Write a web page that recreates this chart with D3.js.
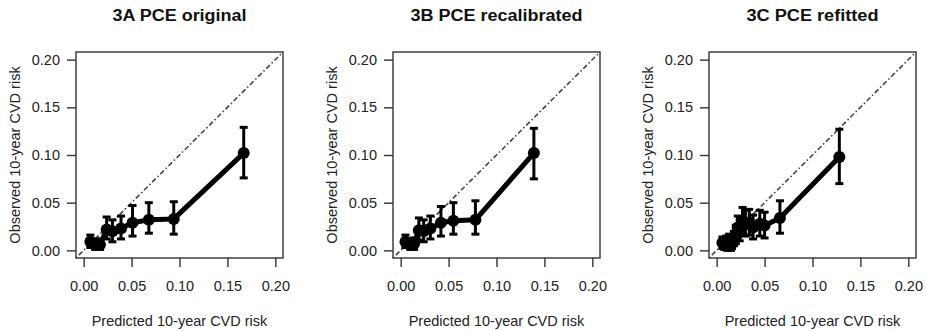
<!DOCTYPE html>
<html>
<head>
<meta charset="utf-8">
<script src="https://cdn.jsdelivr.net/npm/d3@7"></script>
<style>
  body { margin: 0; background: #fff; }
  svg text { font-family: "Liberation Sans", Arial, Helvetica, sans-serif; fill: #222; }
</style>
</head>
<body>
<div id="chart"></div>
<script>
// calibration data
const titles = ['3A PCE original', '3B PCE recalibrated', '3C PCE refitted'];
const titleWidths = [134, 172, 132];

const predA = [0.007, 0.012, 0.017, 0.024, 0.030, 0.039, 0.051, 0.068, 0.094, 0.167];
const obsA = [0.009, 0.006, 0.006, 0.022, 0.020, 0.023, 0.029, 0.032, 0.033, 0.102];
const lowA = [0.003, 0.001, 0.001, 0.012, 0.009, 0.012, 0.015, 0.018, 0.017, 0.076];
const highA = [0.016, 0.012, 0.012, 0.035, 0.032, 0.036, 0.047, 0.050, 0.051, 0.129];

const predB = [0.005, 0.010, 0.014, 0.019, 0.024, 0.031, 0.042, 0.055, 0.078, 0.139];
const obsB = [0.009, 0.006, 0.007, 0.021, 0.020, 0.023, 0.029, 0.031, 0.032, 0.102];
const lowB = [0.003, 0.001, 0.001, 0.011, 0.009, 0.012, 0.015, 0.017, 0.017, 0.075];
const highB = [0.016, 0.012, 0.013, 0.034, 0.032, 0.036, 0.046, 0.050, 0.052, 0.128];

const predC = [0.006, 0.008, 0.010, 0.011, 0.012, 0.013, 0.015, 0.016, 0.018, 0.020,
  0.022, 0.024, 0.027, 0.030, 0.034, 0.038, 0.045, 0.050, 0.066, 0.128];
const obsC = [0.008, 0.006, 0.009, 0.005, 0.007, 0.010, 0.006, 0.008, 0.012, 0.016,
  0.024, 0.020, 0.031, 0.028, 0.029, 0.024, 0.028, 0.026, 0.034, 0.098];
const lowC = [0.002, 0.001, 0.003, 0.000, 0.001, 0.004, 0.000, 0.002, 0.005, 0.007,
  0.013, 0.010, 0.018, 0.015, 0.016, 0.012, 0.015, 0.013, 0.018, 0.070];
const highC = [0.014, 0.012, 0.015, 0.011, 0.013, 0.017, 0.012, 0.015, 0.020, 0.026,
  0.036, 0.032, 0.045, 0.042, 0.043, 0.037, 0.042, 0.040, 0.052, 0.127];

const tickValues = [0, 0.05, 0.10, 0.15, 0.20];
const tickLabels = ['0.00', '0.05', '0.10', '0.15', '0.20'];

const panels = [
  { pred: predA, obs: obsA, low: lowA, high: highA },
  { pred: predB, obs: obsB, low: lowB, high: highB },
  { pred: predC, obs: obsC, low: lowC, high: highC }
];

const W = 926, H = 331;
const boxLefts = [76, 393, 709];
const boxW = 207, boxTop = 52, boxH = 206;
const lim = [-0.008, 0.208];

const svg = d3.select('#chart').append('svg')
  .attr('width', W)
  .attr('height', H);

panels.forEach((p, k) => {
  const g = svg.append('g').attr('transform', `translate(${boxLefts[k]},${boxTop})`);
  const x = d3.scaleLinear().domain(lim).range([0, boxW]);
  const y = d3.scaleLinear().domain(lim).range([boxH, 0]);

  // title
  g.append('text')
    .attr('x', boxW / 2)
    .attr('y', -31)
    .attr('text-anchor', 'middle')
    .style('font-size', '16px')
    .style('font-weight', 'bold')
    .style('fill', '#111')
    .attr('textLength', titleWidths[k])
    .attr('lengthAdjust', 'spacingAndGlyphs')
    .text(titles[k]);

  // axes
  const yAxis = d3.axisLeft(y).tickValues(tickValues).tickFormat((d, i) => tickLabels[i])
    .tickSize(9).tickSizeOuter(0).tickPadding(7);
  const xAxis = d3.axisBottom(x).tickValues(tickValues).tickFormat((d, i) => tickLabels[i])
    .tickSize(9).tickSizeOuter(0).tickPadding(14);

  const ya = g.append('g').call(yAxis);
  const xa = g.append('g').attr('transform', `translate(0,${boxH})`).call(xAxis);
  [ya, xa].forEach((a) => {
    a.select('.domain').remove();
    a.selectAll('line').attr('stroke', '#333').attr('stroke-width', 1.4);
    a.selectAll('text').style('font-size', '14.5px').style('font-family', '"Liberation Sans", Arial, sans-serif').attr('fill', '#222');
  });

  // axis labels
  g.append('text')
    .attr('x', boxW / 2)
    .attr('y', boxH + 68)
    .attr('text-anchor', 'middle')
    .style('font-size', '14.5px')
    .text('Predicted 10-year CVD risk');
  g.append('text')
    .attr('transform', `translate(-56,${boxH / 2}) rotate(-90)`)
    .attr('text-anchor', 'middle')
    .style('font-size', '14.5px')
    .text('Observed 10-year CVD risk');

  // reference line
  g.append('line')
    .attr('x1', x(lim[0])).attr('y1', y(lim[0]))
    .attr('x2', x(lim[1])).attr('y2', y(lim[1]))
    .attr('stroke', '#444')
    .attr('stroke-width', 1.6)
    .attr('stroke-dasharray', '1.5,2.5,5,2.5');

  const pts = p.pred.map((d, i) => ({ px: d, o: p.obs[i], lo: p.low[i], hi: p.high[i] }));

  // connecting line
  g.append('path')
    .datum(pts)
    .attr('fill', 'none')
    .attr('stroke', '#000')
    .attr('stroke-width', 5)
    .attr('stroke-linejoin', 'round')
    .attr('d', d3.line().x((d) => x(d.px)).y((d) => y(d.o)));

  // error bars
  const eb = g.selectAll('.eb').data(pts).enter().append('g').attr('class', 'eb');
  eb.append('line')
    .attr('x1', (d) => x(d.px)).attr('x2', (d) => x(d.px))
    .attr('y1', (d) => y(d.lo)).attr('y2', (d) => y(d.hi))
    .attr('stroke', '#000').attr('stroke-width', 3);
  ['lo', 'hi'].forEach((key) => {
    eb.append('line')
      .attr('x1', (d) => x(d.px) - 4).attr('x2', (d) => x(d.px) + 4)
      .attr('y1', (d) => y(d[key])).attr('y2', (d) => y(d[key]))
      .attr('stroke', '#000').attr('stroke-width', 3);
  });

  // points
  g.selectAll('.pt').data(pts).enter().append('circle')
    .attr('class', 'pt')
    .attr('cx', (d) => x(d.px))
    .attr('cy', (d) => y(d.o))
    .attr('r', 6)
    .attr('fill', '#000');

  // box
  g.append('rect')
    .attr('width', boxW)
    .attr('height', boxH)
    .attr('fill', 'none')
    .attr('stroke', '#333')
    .attr('stroke-width', 1.4);
});
</script>
</body>
</html>
